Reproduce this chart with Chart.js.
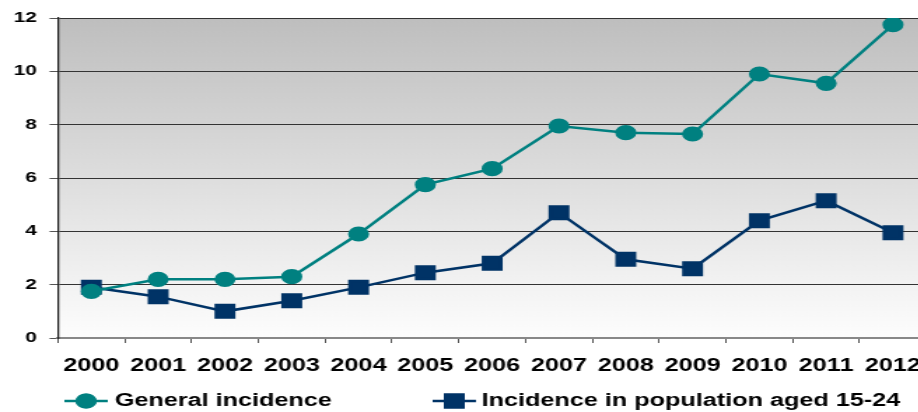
<!DOCTYPE html>
<html>
<head>
<meta charset="utf-8">
<script src="https://cdn.jsdelivr.net/npm/chart.js@4.4.1/dist/chart.umd.min.js"></script>
<style>
  html, body { margin: 0; padding: 0; background: #fff; overflow: hidden; }
  /* the whole chart is drawn narrow and stretched sideways */
  #wrap { width: 673px; height: 412px; transform: scaleX(1.4); transform-origin: 0 0; }
</style>
</head>
<body>
<div id="wrap"><canvas id="incidenceChart" width="673" height="412"></canvas></div>
<script>
const years = ['2000', '2001', '2002', '2003', '2004', '2005', '2006',
               '2007', '2008', '2009', '2010', '2011', '2012'];
const generalIncidence = [1.75, 2.2, 2.2, 2.3, 3.9, 5.75, 6.35, 7.95, 7.7, 7.65, 9.9, 9.55, 11.75];
const youthIncidence = [1.9, 1.55, 1.0, 1.4, 1.9, 2.45, 2.8, 4.7, 2.95, 2.6, 4.4, 5.15, 3.95];
const seriesLabels = ['General incidence', 'Incidence in population aged 15-24'];
const seriesColors = ['#008080', '#003366'];

const FONT = '"Liberation Sans", Arial, sans-serif';

// grey-to-white fill behind the plot
const plotBackground = {
    id: 'plotBackground',
    beforeDraw(chart) {
        const { ctx, chartArea: a } = chart;
        const g = ctx.createLinearGradient(0, a.top, 0, a.bottom);
        g.addColorStop(0, '#bebebe');
        g.addColorStop(1, '#fdfdfd');
        ctx.save();
        ctx.fillStyle = g;
        ctx.fillRect(a.left, a.top, a.right - a.left, a.bottom - a.top);
        ctx.restore();
    }
};

// legend with a short line through each marker
const lineLegend = {
    id: 'lineLegend',
    afterDraw(chart) {
        const { ctx } = chart;
        const slots = [{ from: 46, to: 77, text: 82 }, { from: 309, to: 340, text: 344 }];
        const y = 401;
        ctx.save();
        chart.data.datasets.forEach((ds, i) => {
            const s = slots[i];
            ctx.strokeStyle = ds.borderColor;
            ctx.lineWidth = ds.borderWidth;
            ctx.beginPath();
            ctx.moveTo(s.from, y);
            ctx.lineTo(s.to, y);
            ctx.stroke();
            Chart.helpers.drawPoint(ctx, {
                pointStyle: ds.pointStyle,
                radius: ds.pointRadius,
                borderWidth: 1
            }, (s.from + s.to) / 2, y);
            ctx.fillStyle = ds.pointBackgroundColor;
            ctx.strokeStyle = ds.pointBorderColor;
            ctx.fill();
            ctx.stroke();
            ctx.fillStyle = '#000';
            ctx.font = 'bold 18px ' + FONT;
            ctx.textBaseline = 'middle';
            ctx.textAlign = 'left';
            ctx.fillText(ds.label, s.text, y);
        });
        ctx.restore();
    }
};

new Chart(document.getElementById('incidenceChart'), {
    type: 'line',
    data: {
        labels: years,
        datasets: [{
            label: seriesLabels[0],
            data: generalIncidence,
            borderColor: seriesColors[0],
            borderWidth: 2.5,
            pointStyle: 'circle',
            pointRadius: 6.3,
            pointBackgroundColor: seriesColors[0],
            pointBorderColor: seriesColors[0],
            tension: 0
        }, {
            label: seriesLabels[1],
            data: youthIncidence,
            borderColor: seriesColors[1],
            borderWidth: 2.5,
            pointStyle: 'rect',
            pointRadius: 8.8,
            pointBackgroundColor: seriesColors[1],
            pointBorderColor: seriesColors[1],
            tension: 0
        }]
    },
    options: {
        responsive: false,
        animation: false,
        layout: { padding: { top: 16, right: 0, bottom: 34, left: 0 } },
        plugins: {
            legend: { display: false },
            tooltip: { enabled: false }
        },
        scales: {
            x: {
                offset: true,
                grid: { offset: true, drawOnChartArea: false, tickLength: 5, tickColor: '#555' },
                border: { color: '#888', width: 2 },
                ticks: {
                    color: '#000',
                    font: { family: FONT, size: 18, weight: 'bold' },
                    padding: 12,
                    maxRotation: 0,
                    autoSkip: false
                },
                afterFit(scale) { scale.height = 40; }
            },
            y: {
                min: 0,
                max: 12,
                grid: {
                    color: c => c.tick.value === 0 ? 'rgba(0,0,0,0)' : '#333',
                    tickColor: '#555',
                    tickLength: 6,
                    lineWidth: 1
                },
                border: { color: '#222', width: 1.3 },
                ticks: {
                    stepSize: 2,
                    color: '#000',
                    font: { family: FONT, size: 15, weight: 'bold' },
                    padding: 9
                },
                afterFit(scale) { scale.width = 41.4; }
            }
        }
    },
    plugins: [plotBackground, lineLegend]
});
</script>
</body>
</html>
